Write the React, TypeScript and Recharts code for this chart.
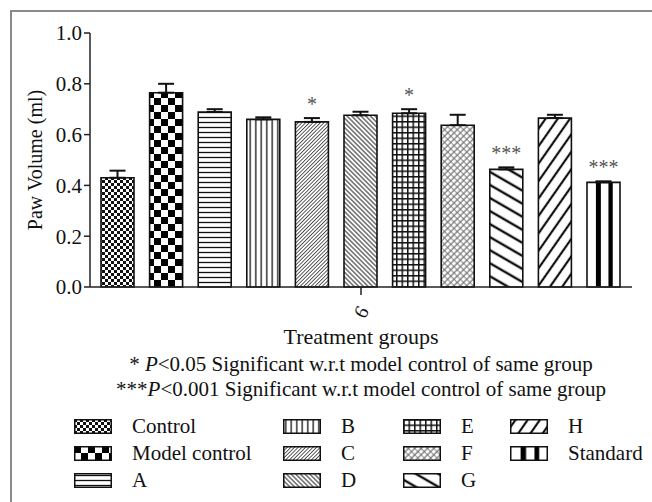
import React from "react";
import { BarChart, Bar, XAxis, YAxis, ErrorBar, Legend, LabelList } from "recharts";

const groups = ["6"];
const seriesNames = ["Control", "Model control", "A", "B", "C", "D", "E", "F", "G", "H", "Standard"];
const means = [0.43, 0.765, 0.689, 0.66, 0.65, 0.676, 0.684, 0.637, 0.463, 0.665, 0.412];
const sems = [0.028, 0.035, 0.011, 0.008, 0.015, 0.014, 0.016, 0.041, 0.008, 0.013, 0.004];
const significance = ["", "", "", "", "*", "", "*", "", "***", "", "***"];
const yTicks = [0, 0.2, 0.4, 0.6, 0.8, 1.0];
const xAxisTitle = "Treatment groups";
const yAxisTitle = "Paw Volume (ml)";
const noteStars = ["* ", "***"];
const noteP = ["<0.05", "<0.001"];
const noteRest = " Significant w.r.t model control of same group";

const FONT = "'Liberation Serif', 'Times New Roman', serif";

const data = groups.map((g) => {
  const row: any = { group: g };
  means.forEach((m, i) => {
    row[`s${i}`] = m;
    row[`e${i}`] = [0, sems[i]];
  });
  return row;
});

const Patterns = () => (
  <defs>
    <pattern id="p0" width={6} height={6} patternUnits="userSpaceOnUse">
      <rect width={6} height={6} fill="#fff" />
      <rect x={0} y={0} width={3} height={3} fill="#111" />
      <rect x={3} y={3} width={3} height={3} fill="#111" />
    </pattern>
    <pattern id="p1" width={14} height={14} patternUnits="userSpaceOnUse">
      <rect width={14} height={14} fill="#fff" />
      <rect x={0} y={0} width={7} height={7} fill="#000" />
      <rect x={7} y={7} width={7} height={7} fill="#000" />
    </pattern>
    <pattern id="p2" width={10} height={5} patternUnits="userSpaceOnUse">
      <rect width={10} height={5} fill="#fff" />
      <line x1={0} y1={2.5} x2={10} y2={2.5} stroke="#111" strokeWidth={1.3} />
    </pattern>
    <pattern id="p3" width={5.5} height={10} patternUnits="userSpaceOnUse">
      <rect width={5.5} height={10} fill="#fff" />
      <line x1={2.75} y1={0} x2={2.75} y2={10} stroke="#111" strokeWidth={1.3} />
    </pattern>
    <pattern id="p4" width={2.6} height={10} patternUnits="userSpaceOnUse" patternTransform="rotate(45)">
      <rect width={2.6} height={10} fill="#fff" />
      <line x1={1.3} y1={0} x2={1.3} y2={10} stroke="#444" strokeWidth={0.9} />
    </pattern>
    <pattern id="p5" width={3.3} height={10} patternUnits="userSpaceOnUse" patternTransform="rotate(-45)">
      <rect width={3.3} height={10} fill="#fff" />
      <line x1={1.65} y1={0} x2={1.65} y2={10} stroke="#222" strokeWidth={1} />
    </pattern>
    <pattern id="p6" width={5.5} height={5.5} patternUnits="userSpaceOnUse">
      <rect width={5.5} height={5.5} fill="#fff" />
      <line x1={0} y1={0.75} x2={5.5} y2={0.75} stroke="#111" strokeWidth={1.5} />
      <line x1={0.75} y1={0} x2={0.75} y2={5.5} stroke="#111" strokeWidth={1.5} />
    </pattern>
    <pattern id="p7" width={4.5} height={4.5} patternUnits="userSpaceOnUse" patternTransform="rotate(45)">
      <rect width={4.5} height={4.5} fill="#fff" />
      <line x1={1} y1={0} x2={1} y2={4.5} stroke="#444" strokeWidth={0.9} />
      <line x1={0} y1={2.5} x2={4.5} y2={2.5} stroke="#666" strokeWidth={0.8} />
    </pattern>
    <pattern id="p8" width={10} height={11.3} patternUnits="userSpaceOnUse" patternTransform="rotate(30)">
      <rect width={10} height={11.3} fill="#fff" />
      <line x1={0} y1={5.6} x2={10} y2={5.6} stroke="#111" strokeWidth={2.4} />
    </pattern>
    <pattern id="p9" width={10} height={10} patternUnits="userSpaceOnUse" patternTransform="rotate(-55)">
      <rect width={10} height={10} fill="#fff" />
      <line x1={0} y1={5} x2={10} y2={5} stroke="#111" strokeWidth={2.2} />
    </pattern>
    <pattern id="p10" width={1} height={1} patternUnits="objectBoundingBox" patternContentUnits="objectBoundingBox">
      <rect width={1} height={1} fill="#fff" />
      <rect x={0.27} y={0} width={0.15} height={1} fill="#000" />
      <rect x={0.65} y={0} width={0.13} height={1} fill="#000" />
    </pattern>
  </defs>
);

const makeStar = (i: number) => (props: any) => {
  const mark = significance[i];
  if (!mark) return null;
  const vb = props.viewBox || props;
  const x = Number(vb.x);
  const y = Number(vb.y);
  const w = Number(vb.width);
  const h = Math.abs(Number(vb.height));
  const v = Number(props.value);
  const pxPerUnit = v ? h / v : 0;
  const top = y - sems[i] * pxPerUnit;
  return (
    <text x={x + w / 2} y={top - 7} textAnchor="middle" fontFamily={FONT} fontSize={20} fill="#555">
      {mark}
    </text>
  );
};

const XTick = (props: any) => {
  const { x, y, payload } = props;
  return (
    <g transform={`translate(${x},${y + 15})`}>
      <text transform="rotate(-60)" textAnchor="middle" dominantBaseline="central" fontFamily={FONT} fontSize={20} fill="#111">
        {payload.value}
      </text>
    </g>
  );
};

const XCaption = (props: any) => {
  const vb = props.viewBox || { x: 90, y: 287, width: 542 };
  const cx = vb.x + vb.width / 2;
  const y0 = vb.y;
  return (
    <g fontFamily={FONT} fontSize={21} fill="#111">
      <text x={cx} y={y0 + 57} textAnchor="middle" fontSize={22}>{xAxisTitle}</text>
      {noteStars.map((s, k) => (
        <text key={k} x={cx} y={y0 + 84 + k * 25} textAnchor="middle">
          {s}
          <tspan fontStyle="italic">P</tspan>
          {noteP[k] + noteRest}
        </text>
      ))}
    </g>
  );
};

const YCaption = (props: any) => {
  const vb = props.viewBox || { x: 10, y: 33, width: 80, height: 254 };
  const cx = vb.x + 25;
  const cy = vb.y + vb.height / 2;
  return (
    <text x={cx} y={cy} transform={`rotate(-90 ${cx} ${cy})`} textAnchor="middle" dominantBaseline="central" fontFamily={FONT} fontSize={20} fill="#111">
      {yAxisTitle}
    </text>
  );
};

const colLefts = [0, 209, 329, 436];
const rowTops = [0, 27, 54];

const LegendContent = () => (
  <div style={{ position: "relative", width: 560, height: 80, fontFamily: FONT, fontSize: 21, color: "#111" }}>
    {seriesNames.map((name, i) => {
      const col = Math.floor(i / 3);
      const row = i % 3;
      return (
        <div key={name} style={{ position: "absolute", left: colLefts[col], top: rowTops[row], height: 20, display: "flex", alignItems: "center", lineHeight: "20px", whiteSpace: "nowrap" }}>
          <svg width={38} height={15} style={{ marginRight: 20, display: "block" }}>
            <rect x={0.75} y={0.75} width={36.5} height={13.5} fill={`url(#p${i})`} stroke="#111" strokeWidth={1.5} />
          </svg>
          <span>{name}</span>
        </div>
      );
    })}
  </div>
);

export default function App() {
  return (
    <div style={{ position: "absolute", left: 0, top: 0, width: 652, height: 502, background: "#fff", overflow: "hidden" }}>
      <div style={{ position: "absolute", left: 10, top: 10, width: 700, height: 600, borderLeft: "2px solid #8a8a8a", borderTop: "2px solid #8a8a8a" }} />
      <BarChart
        width={652}
        height={502}
        data={data}
        margin={{ top: 33, right: 20, left: 10, bottom: 185 }}
        barCategoryGap={11}
        barGap={15.6}
      >
        <Patterns />
        <XAxis
          dataKey="group"
          height={30}
          tickSize={8}
          tickMargin={2}
          axisLine={{ stroke: "#222", strokeWidth: 1.5 }}
          tickLine={{ stroke: "#222", strokeWidth: 1.5 }}
          tick={<XTick />}
          label={<XCaption />}
        />
        <YAxis
          width={80}
          domain={[0, 1]}
          ticks={yTicks}
          tickFormatter={(v: number) => v.toFixed(1)}
          tickSize={6}
          tickMargin={2}
          axisLine={{ stroke: "#222", strokeWidth: 1.5 }}
          tickLine={{ stroke: "#222", strokeWidth: 1.5 }}
          tick={{ fontFamily: FONT, fontSize: 21, fill: "#111" }}
          label={<YCaption />}
        />
        <Legend
          verticalAlign="middle"
          align="center"
          layout="horizontal"
          wrapperStyle={{ top: 416, left: 74, width: 560, height: 80 }}
          content={<LegendContent />}
        />
        {seriesNames.map((name, i) => (
          <Bar
            key={name}
            dataKey={`s${i}`}
            name={name}
            fill={`url(#p${i})`}
            stroke="#111"
            strokeWidth={1.6}
            isAnimationActive={false}
          >
            <ErrorBar dataKey={`e${i}`} width={8} stroke="#111" strokeWidth={2} direction="y" />
            <LabelList dataKey={`s${i}`} content={makeStar(i)} />
          </Bar>
        ))}
      </BarChart>
    </div>
  );
}
